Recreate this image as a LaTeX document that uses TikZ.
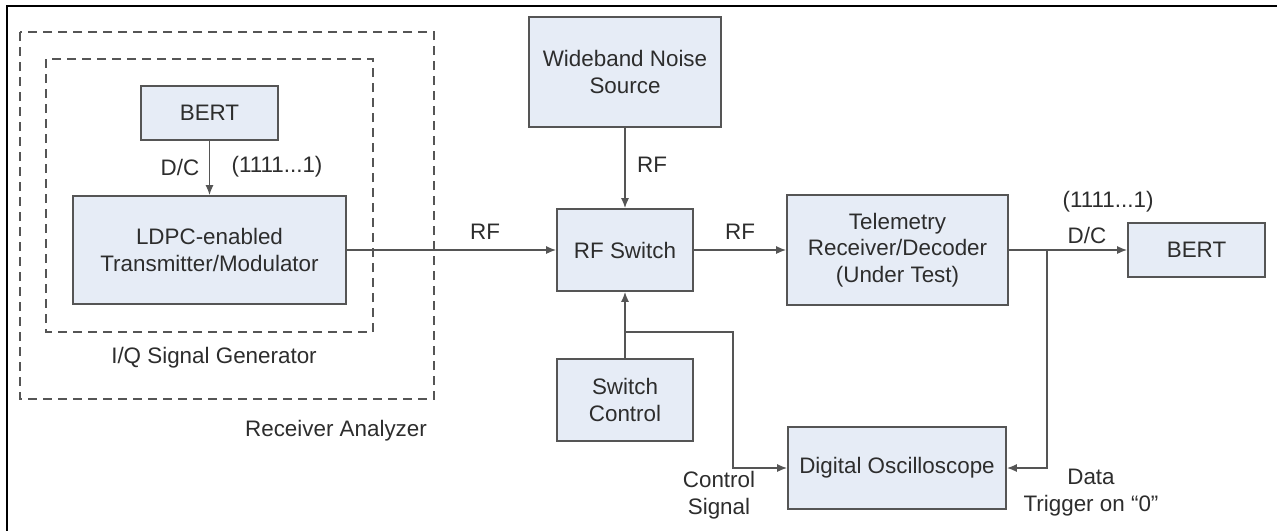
\documentclass[tikz,border=0pt]{standalone}
\usepackage{fontspec}
\setmainfont{Liberation Sans}
\usetikzlibrary{arrows.meta}
\definecolor{boxfill}{RGB}{230,236,246}
\definecolor{boxline}{RGB}{85,85,85}
\definecolor{txt}{RGB}{45,45,45}
\tikzset{
  box/.style={draw=boxline, line width=0.8pt, fill=boxfill, align=center, inner sep=2pt, text=txt},
  lbl/.style={text=txt, inner sep=0pt, align=center},
  conn/.style={draw=boxline, line width=0.8pt},
  arr/.style={conn, -{Latex[length=5pt,width=4pt]}},
  dbox/.style={draw=boxline, line width=0.8pt, dash pattern=on 4.5pt off 3pt},
}
\begin{document}
\begin{tikzpicture}[x=0.5pt, y=-0.5pt, font=\fontsize{11.2}{13.4}\selectfont]
\useasboundingbox (0,0) rectangle (1277,531);
\fill[white] (0,0) rectangle (1277,531);
% frame
\draw[line width=1pt, black] (1277,6) -- (7,6) -- (7,531);
% dashed groups
\draw[dbox] (20,32) rectangle (434,399);
\draw[dbox] (46,59) rectangle (373,332);
\node[lbl] (iqlbl) at (214,358) {I/Q Signal Generator};
\node[lbl] (ralbl) at (336,431) {Receiver Analyzer};
% boxes
\node[box, minimum width=68.5pt, minimum height=27pt] (bert1) at (209.5,113) {BERT};
\node[box, minimum width=136.5pt, minimum height=54pt] (ldpc) at (209.5,250) {LDPC-enabled\\Transmitter/Modulator};
\node[box, minimum width=96pt, minimum height=55pt] (wns) at (625,72) {Wideband Noise\\Source};
\node[box, minimum width=68pt, minimum height=41pt] (rfs) at (625,250) {RF Switch};
\node[box, minimum width=110.5pt, minimum height=55pt] (tel) at (897.5,250) {Telemetry\\Receiver/Decoder\\(Under Test)};
\node[box, minimum width=68.5pt, minimum height=27pt] (bert2) at (1196.5,250) {BERT};
\node[box, minimum width=68pt, minimum height=41pt] (sc) at (625,400) {Switch\\Control};
\node[box, minimum width=109pt, minimum height=41pt] (osc) at (897,468) {Digital Oscilloscope};
% coordinates
\coordinate (j) at (1047,250);
\coordinate (k) at (625,332);
% connectors
\draw[arr] (bert1) -- (ldpc);
\draw[arr] (ldpc) -- (rfs);
\draw[arr] (wns) -- (rfs);
\draw[arr] (rfs) -- (tel);
\draw[arr] (tel) -- (bert2);
\draw[arr] (j) |- (osc.east);
\draw[arr] (sc) -- (rfs);
\draw[arr] (k) -| (733,400) |- (osc.west);
% labels
\node[lbl] (dc1) at (180,167) {D/C};
\node[lbl] (ones1) at (277,167) {(1111...1)};
\node[lbl] (rf1) at (485,232) {RF};
\node[lbl] (rf2) at (652,165) {RF};
\node[lbl] (rf3) at (740,232) {RF};
\node[lbl] (ones2) at (1108,202) {(1111...1)};
\node[lbl] (dc2) at (1087,235) {D/C};
\node[lbl] (ctl) at (719,495) {Control\\Signal};
\node[lbl] (dat) at (1091,493) {Data\\Trigger on “0”};
\end{tikzpicture}
\end{document}
